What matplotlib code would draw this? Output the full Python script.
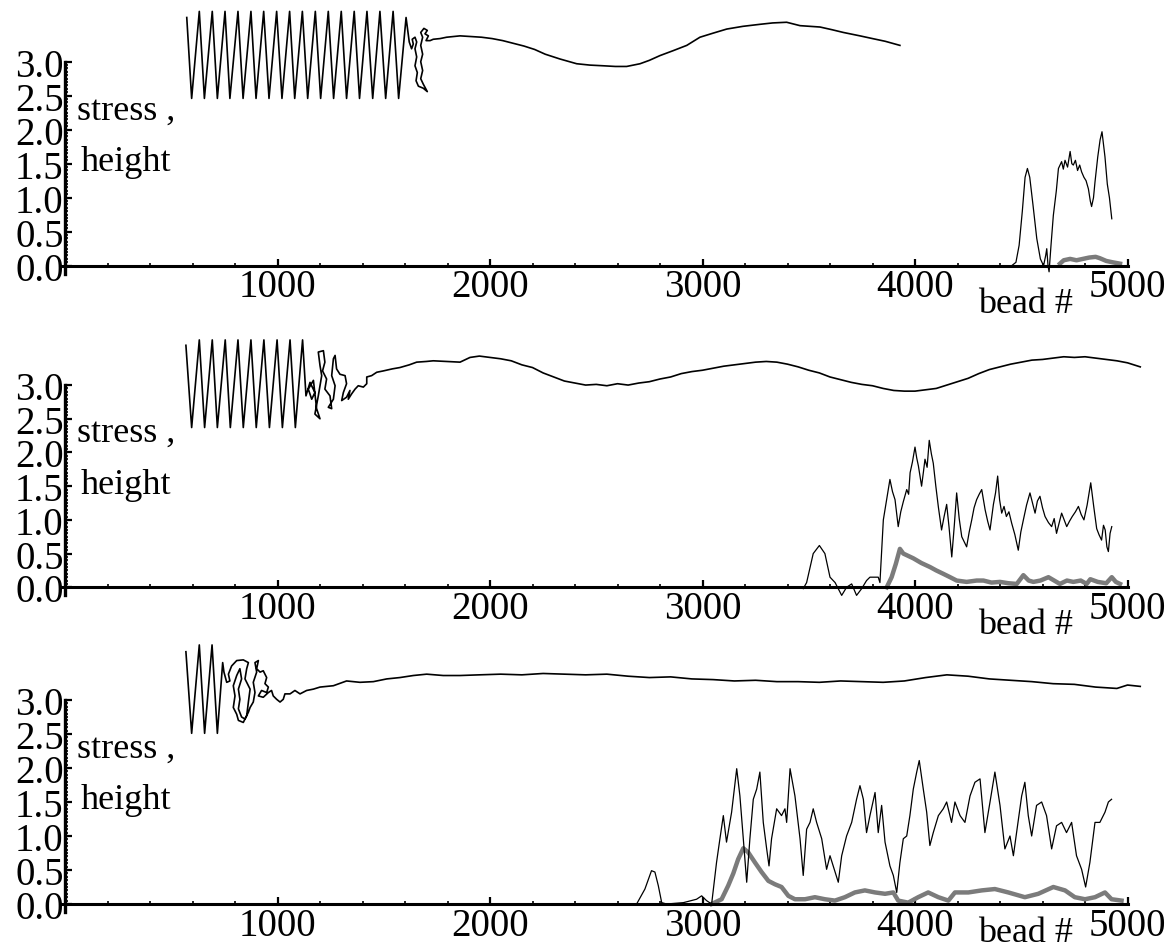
import matplotlib
matplotlib.use("Agg")
import matplotlib.pyplot as plt
from matplotlib.ticker import FixedLocator

plt.rcParams['font.family'] = ['Liberation Serif', 'DejaVu Serif']

# ---------------- data ----------------
# x tick values / labels (bead #)
x_major = [1000, 2000, 3000, 4000, 5000]
x_minor = [200, 400, 600, 800, 1200, 1400, 1600, 1800, 2200, 2400, 2600, 2800,
           3200, 3400, 3600, 3800, 4200, 4400, 4600, 4800]
y_major = [0.0, 0.5, 1.0, 1.5, 2.0, 2.5, 3.0]
y_labels = ['0.0', '0.5', '1.0', '1.5', '2.0', '2.5', '3.0']

# Panel 1 : chain height trace (coil extrema, then tangle and free part)
p1_coil_b = [573, 596, 632, 656, 693, 717, 753, 776, 814, 838, 875, 899, 935, 960,
             996, 1021, 1057, 1081, 1117, 1142, 1178, 1203, 1239, 1264, 1300, 1325,
             1361, 1386, 1421, 1448, 1482, 1509, 1544, 1570, 1605]
p1_coil_v = [3.65, 2.46, 3.74, 2.46, 3.74, 2.46, 3.74, 2.46, 3.74, 2.46, 3.74, 2.46,
             3.74, 2.46, 3.74, 2.46, 3.74, 2.46, 3.74, 2.46, 3.74, 2.46, 3.74, 2.46,
             3.74, 2.46, 3.74, 2.46, 3.74, 2.46, 3.74, 2.46, 3.74, 2.46, 3.65]
p1_tail_b = [1620, 1631, 1639, 1634, 1647, 1655, 1647, 1655, 1647, 1658,
             1652, 1663, 1686, 1705, 1686, 1674, 1683, 1674, 1683, 1674,
             1683, 1674, 1689, 1705, 1694, 1710, 1699, 1718, 1733, 1765,
             1796, 1859, 1910, 1960, 2010, 2060, 2110, 2160, 2210, 2260,
             2329, 2408, 2470, 2533, 2590, 2643, 2706, 2750, 2800, 2860,
             2926, 2988, 3050, 3114, 3190, 3271, 3330, 3396, 3459, 3553,
             3610, 3663, 3741, 3800, 3860, 3929]
p1_tail_v = [3.29, 3.19, 3.26, 3.33, 3.36, 3.29, 3.19, 3.07, 2.94, 2.84,
             2.72, 2.64, 2.61, 2.56, 2.67, 2.75, 2.87, 3.00, 3.11, 3.24,
             3.36, 3.43, 3.49, 3.46, 3.41, 3.38, 3.31, 3.31, 3.33, 3.34,
             3.36, 3.38, 3.37, 3.36, 3.34, 3.31, 3.27, 3.23, 3.18, 3.11,
             3.04, 2.97, 2.95, 2.94, 2.93, 2.93, 2.97, 3.02, 3.09, 3.16,
             3.24, 3.36, 3.42, 3.48, 3.52, 3.55, 3.57, 3.58, 3.53, 3.51,
             3.47, 3.43, 3.38, 3.34, 3.30, 3.24]
# Panel 1 : stress (black) and grey curve
p1_black_b = [4455, 4475, 4490, 4505, 4518, 4529, 4540, 4555, 4573, 4590,
              4605, 4615, 4620, 4626, 4631, 4640, 4651, 4665, 4675, 4690,
              4698, 4706, 4718, 4730, 4738, 4745, 4755, 4765, 4775, 4784,
              4795, 4805, 4816, 4825, 4831, 4840, 4847, 4860, 4871, 4880,
              4894, 4905, 4915, 4926]
p1_black_v = [0.0, 0.05, 0.3, 0.8, 1.3, 1.43, 1.3, 0.9, 0.40, 0.1,
              0.0, 0.15, 0.25, 0.0, -0.09, 0.3, 0.74, 1.1, 1.43, 1.53,
              1.42, 1.55, 1.45, 1.68, 1.5, 1.48, 1.55, 1.4, 1.48, 1.38,
              1.3, 1.25, 1.13, 0.95, 0.87, 1.0, 1.23, 1.6, 1.85, 1.97,
              1.6, 1.2, 1.0, 0.69]
p1_grey_b = [4682, 4700, 4730, 4760, 4790, 4820, 4850, 4870, 4900, 4930, 4965]
p1_grey_v = [0.03, 0.08, 0.10, 0.08, 0.10, 0.12, 0.13, 0.11, 0.07, 0.05, 0.03]

# Panel 2
p2_coil_b = [569, 596, 632, 657, 693, 717, 754, 778, 814, 839, 875, 900, 936, 962,
             998, 1023, 1059, 1084, 1118]
p2_coil_v = [3.59, 2.37, 3.67, 2.37, 3.67, 2.37, 3.67, 2.37, 3.67, 2.37, 3.67, 2.37,
             3.67, 2.37, 3.67, 2.37, 3.67, 2.37, 3.67]
p2_tail_b = [1134, 1153, 1176, 1161, 1145, 1169, 1184, 1200, 1176, 1192,
             1208, 1200, 1192, 1216, 1223, 1212, 1231, 1223, 1247, 1255,
             1239, 1263, 1271, 1255, 1263, 1271, 1278, 1294, 1318, 1325,
             1310, 1302, 1325, 1341, 1333, 1349, 1365, 1380, 1404, 1420,
             1420, 1443, 1467, 1498, 1540, 1576, 1620, 1655, 1700, 1733,
             1800, 1859,
             1906, 1950, 2000, 2050, 2100, 2150, 2200, 2250, 2300, 2350,
             2400, 2450, 2500, 2550, 2600, 2650, 2700, 2750, 2800, 2850,
             2900, 2950, 3000, 3050, 3100, 3150, 3200, 3250, 3300, 3350,
             3400, 3450, 3500, 3550, 3600, 3650, 3700, 3750, 3800, 3850,
             3900, 3950, 4000, 4050, 4100, 4150, 4200, 4250, 4300, 4350,
             4400, 4450, 4500, 4550, 4600, 4650, 4700, 4750, 4800, 4850,
             4900, 4950, 5000, 5060]
p2_tail_v = [2.84, 3.04, 2.89, 2.79, 2.94, 3.07, 2.65, 2.50, 2.57, 2.84,
             3.14, 3.29, 3.49, 3.51, 3.34, 3.21, 3.09, 2.94, 2.84, 2.65,
             2.67, 2.79, 2.99, 3.14, 3.39, 3.44, 3.24, 3.16, 3.14, 3.02,
             2.89, 2.77, 2.82, 2.92, 2.79, 2.87, 2.94, 2.99, 2.97, 3.02,
             3.12, 3.14, 3.19, 3.21, 3.24, 3.26, 3.30, 3.34, 3.35, 3.36,
             3.35, 3.34,
             3.41, 3.43, 3.41, 3.39, 3.36, 3.30, 3.26, 3.18, 3.12, 3.06,
             3.03, 3.00, 3.01, 2.99, 3.02, 3.00, 3.03, 3.05, 3.09, 3.12,
             3.17, 3.20, 3.22, 3.25, 3.28, 3.30, 3.32, 3.34, 3.35, 3.34,
             3.31, 3.27, 3.22, 3.18, 3.12, 3.08, 3.04, 3.01, 2.99, 2.95,
             2.92, 2.91, 2.91, 2.93, 2.95, 3.00, 3.05, 3.10, 3.17, 3.23,
             3.27, 3.31, 3.34, 3.37, 3.38, 3.40, 3.42, 3.41, 3.42, 3.40,
             3.38, 3.36, 3.33, 3.27]
p2_black_b = [3474, 3490, 3521, 3550, 3576, 3600, 3624, 3655, 3678, 3702,
              3725, 3749, 3772, 3788, 3827, 3835, 3851, 3882, 3894, 3906, 3921,
              3933, 3945, 3961, 3970, 3977, 3988, 4000, 4008, 4016, 4031, 4040, 4047,
              4057, 4067, 4077, 4086, 4098, 4110, 4125, 4137, 4149, 4160, 4173, 4185,
              4196, 4208, 4220, 4243, 4255, 4267, 4278, 4290, 4302, 4314, 4330,
              4342, 4353, 4369, 4379, 4389, 4398, 4408, 4419, 4430, 4442, 4455, 4470,
              4486, 4498, 4510, 4525, 4541, 4553, 4565, 4576, 4588, 4600, 4612, 4628,
              4643, 4655, 4666, 4678, 4690, 4702, 4714, 4727, 4740, 4755, 4769, 4782,
              4795, 4810, 4827, 4841, 4855, 4866, 4878, 4887, 4895, 4903, 4910, 4918,
              4926]
p2_black_v = [-0.02, 0.07, 0.5, 0.62, 0.5, 0.15, 0.07, -0.12, 0.0, 0.05,
              -0.12, -0.02, 0.1, 0.15, 0.15, 0.07, 1.0, 1.6, 1.42, 1.3, 0.9,
              1.12, 1.27, 1.45, 1.38, 1.7, 1.86, 2.08, 1.92, 1.8, 1.5, 1.72, 1.9,
              1.78, 2.18, 1.98, 1.84, 1.5, 1.19, 0.85, 1.05, 1.23, 0.9, 0.45, 0.92,
              1.4, 1.02, 0.75, 0.6, 0.82, 1.0, 1.18, 1.3, 1.38, 1.45, 1.15,
              0.98, 0.85, 1.23, 1.4, 1.65, 1.3, 1.1, 1.2, 1.05, 1.12, 0.95, 0.78,
              0.55, 0.82, 1.0, 1.22, 1.4, 1.25, 1.1, 1.28, 1.35, 1.18, 1.05, 0.96,
              0.9, 1.02, 0.8, 0.95, 1.1, 1.0, 0.9, 0.98, 1.05, 1.12, 1.2, 1.08,
              1.0, 1.22, 1.55, 1.2, 0.87, 0.78, 0.7, 0.92, 0.85, 0.6, 0.53, 0.8,
              0.9]
p2_grey_b = [3867, 3890, 3910, 3929, 3945, 3992, 4030, 4071, 4100, 4133,
             4165, 4196, 4243, 4290, 4322, 4360, 4400, 4440, 4479, 4510,
             4535, 4557, 4590, 4628, 4655, 4682, 4715, 4745, 4780, 4808,
             4825, 4860, 4900, 4926, 4945, 4965]
p2_grey_v = [0.0, 0.15, 0.35, 0.57, 0.5, 0.43, 0.36, 0.3, 0.25, 0.2,
             0.15, 0.1, 0.08, 0.1, 0.1, 0.07, 0.08, 0.06, 0.05, 0.18,
             0.1, 0.08, 0.1, 0.15, 0.1, 0.05, 0.1, 0.08, 0.1, 0.05,
             0.12, 0.08, 0.06, 0.15, 0.08, 0.05]

# Panel 3
p3_coil_b = [569, 596, 632, 657, 692, 717]
p3_coil_v = [3.71, 2.51, 3.81, 2.51, 3.81, 2.51]
p3_tail_b = [742, 748, 761, 776, 769, 784, 808, 839, 863, 855,
             847, 871, 863, 855, 839, 816, 808, 792, 800, 792,
             808, 823, 831, 816, 823, 816, 831, 847, 863, 871,
             886, 894, 886, 902, 894, 910, 902, 918, 933, 949,
             941, 957, 949, 925, 910, 933, 957, 972, 980, 996,
             1012, 1027, 1035, 1059, 1082, 1106, 1137, 1169, 1200, 1263,
             1325, 1388, 1451, 1514, 1576, 1639, 1702, 1780, 1859,
             1950, 2050, 2150, 2250, 2350, 2450, 2550, 2650, 2750, 2850,
             2950, 3050, 3150, 3250, 3350, 3450, 3550, 3650, 3750, 3850,
             3950, 4050, 4150, 4250, 4350, 4450, 4550, 4650, 4750, 4850,
             4950, 5000, 5060]
p3_tail_v = [3.55, 3.41, 3.26, 3.28, 3.38, 3.50, 3.58, 3.59, 3.55, 3.46,
             3.31, 3.16, 2.97, 2.77, 2.67, 2.70, 2.79, 2.89, 3.06, 3.21,
             3.36, 3.46, 3.31, 3.16, 3.01, 2.87, 2.75, 2.72, 2.82, 2.89,
             2.97, 3.11, 3.26, 3.41, 3.55, 3.58, 3.46, 3.41, 3.43, 3.33,
             3.24, 3.19, 3.11, 3.14, 3.06, 3.04, 3.11, 3.14, 3.06, 3.01,
             2.97, 3.01, 3.09, 3.09, 3.14, 3.09, 3.14, 3.16, 3.19, 3.21,
             3.28, 3.26, 3.27, 3.31, 3.33, 3.36, 3.38, 3.36, 3.36,
             3.37, 3.38, 3.37, 3.39, 3.38, 3.37, 3.38, 3.35, 3.33, 3.34,
             3.31, 3.30, 3.28, 3.29, 3.27, 3.27, 3.26, 3.28, 3.27, 3.26,
             3.28, 3.33, 3.37, 3.35, 3.31, 3.29, 3.27, 3.24, 3.23, 3.19,
             3.17, 3.22, 3.20]
p3_black_b = [2690, 2729, 2760, 2776, 2792, 2808, 2831, 2910, 2972, 2996,
              3019, 3043, 3066, 3082, 3098, 3113, 3137, 3161, 3176, 3192,
              3208, 3223, 3239, 3255, 3270, 3286, 3302, 3313, 3325, 3349,
              3372, 3388, 3396, 3412, 3435, 3459, 3474, 3490, 3506, 3521,
              3537, 3561, 3584, 3600, 3615, 3639, 3655, 3678, 3702, 3725,
              3741, 3757, 3772, 3788, 3812, 3827, 3843, 3859, 3882, 3898,
              3914, 3929, 3945, 3961, 3976, 3992, 4008, 4020, 4039, 4055,
              4070, 4086, 4110, 4133, 4149, 4172, 4188, 4212, 4235, 4259,
              4282, 4306, 4329, 4353, 4376, 4400, 4423, 4447, 4463, 4478,
              4502, 4517, 4533, 4549, 4572, 4596, 4619, 4643, 4666, 4690,
              4713, 4737, 4760, 4784, 4803, 4823, 4847, 4870, 4894, 4910,
              4925]
p3_black_v = [0.0, 0.22, 0.49, 0.47, 0.27, 0.02, 0.0, 0.02, 0.07, 0.12,
              0.05, 0.0, 0.61, 0.96, 1.3, 0.91, 1.35, 1.99, 1.59, 0.96,
              0.32, 0.96, 1.54, 1.69, 1.94, 1.2, 0.81, 0.56, 0.96, 1.4,
              1.3, 1.4, 1.2, 1.99, 1.59, 0.96, 0.42, 1.1, 1.2, 1.4,
              1.2, 0.96, 0.51, 0.71, 0.56, 0.32, 0.71, 1.0, 1.2, 1.54,
              1.74, 1.54, 1.05, 1.3, 1.64, 1.05, 1.45, 0.91, 0.56, 0.42,
              0.17, 0.61, 0.96, 1.0, 1.3, 1.69, 1.94, 2.11, 1.69, 1.35,
              0.86, 1.05, 1.3, 1.4, 1.5, 1.2, 1.5, 1.3, 1.2, 1.59,
              1.79, 1.84, 1.05, 1.5, 1.94, 1.45, 0.81, 1.0, 0.71, 1.05,
              1.59, 1.79, 1.3, 1.0, 1.45, 1.5, 1.3, 0.81, 1.15, 1.2,
              1.05, 1.2, 0.71, 0.51, 0.25, 0.61, 1.2, 1.2, 1.35, 1.5,
              1.54]
p3_grey_b = [3043, 3090, 3121, 3145, 3168, 3192, 3215, 3247, 3278, 3310,
             3341, 3372, 3404, 3435, 3482, 3529, 3576, 3623, 3670, 3717,
             3764, 3812, 3859, 3898, 3921, 3968, 4015, 4062, 4110, 4157,
             4188, 4251, 4314, 4376, 4439, 4517, 4580, 4651, 4706, 4752,
             4800, 4847, 4894, 4925, 4972]
p3_grey_v = [0.0, 0.07, 0.27, 0.45, 0.66, 0.82, 0.76, 0.61, 0.47, 0.34,
             0.29, 0.25, 0.12, 0.07, 0.07, 0.1, 0.07, 0.05, 0.1, 0.17,
             0.2, 0.17, 0.15, 0.17, 0.05, 0.02, 0.1, 0.17, 0.1, 0.05,
             0.17, 0.17, 0.2, 0.22, 0.17, 0.1, 0.15, 0.25, 0.2, 0.1,
             0.07, 0.1, 0.17, 0.07, 0.05]

panels = [
    (p1_coil_b + p1_tail_b, p1_coil_v + p1_tail_v, p1_black_b, p1_black_v, p1_grey_b, p1_grey_v),
    (p2_coil_b + p2_tail_b, p2_coil_v + p2_tail_v, p2_black_b, p2_black_v, p2_grey_b, p2_grey_v),
    (p3_coil_b + p3_tail_b, p3_coil_v + p3_tail_v, p3_black_b, p3_black_v, p3_grey_b, p3_grey_v),
]
bead_label_y = [-0.56, -0.55, -0.42]

# ---------------- layout ----------------
W, H = 1168, 953
fig = plt.figure(figsize=(W / 100, H / 100), dpi=100)
left = 65 / W
width = 5100 * 0.2125 / W
rects = [
    (left, 1 - 276.9 / H, width, 275.4 / H),
    (left, 1 - 598.4 / H, width, 273.0 / H),
    (left, 1 - 915.2 / H, width, 275.4 / H),
]
GREY = '#7b7b7b'
FS = 28

for rect, (cb, cv, bb, bv, gb, gv), by in zip(rects, panels, bead_label_y):
    ax = fig.add_axes(rect)
    ax.set_xlim(0, 5100)
    ax.set_ylim(-0.15, 3.9)
    ax.plot(gb, gv, color=GREY, lw=3.2, solid_joinstyle='round', zorder=2)
    ax.plot(bb, bv, color='black', lw=0.9, zorder=3)
    ax.plot(cb, cv, color='black', lw=1.2, zorder=3)

    for s in ('top', 'right'):
        ax.spines[s].set_visible(False)
    ax.spines['bottom'].set_position(('data', 0))
    ax.spines['bottom'].set_bounds(-20, 5000)
    ax.spines['left'].set_bounds(-0.12, 3.0)
    ax.spines['bottom'].set_linewidth(2.2)
    ax.spines['left'].set_linewidth(2.4)
    ax.patch.set_visible(False)

    ax.xaxis.set_major_locator(FixedLocator(x_major))
    ax.xaxis.set_minor_locator(FixedLocator(x_minor))
    ax.set_xticklabels([str(v) for v in x_major])
    ax.yaxis.set_major_locator(FixedLocator(y_major))
    ax.yaxis.set_minor_locator(FixedLocator([i * 0.05 for i in range(61)]))
    ax.set_yticklabels(y_labels)
    ax.tick_params(axis='both', which='major', direction='in', length=5, width=1.6,
                   labelsize=FS)
    ax.tick_params(axis='both', which='minor', direction='in', length=2.5, width=1.2)
    ax.tick_params(axis='x', which='major', pad=2)
    ax.tick_params(axis='y', which='major', pad=1)

    ax.text(287, 1.91, 'stress ,\nheight', ha='center', va='center', fontsize=26,
            linespacing=1.75)
    ax.text(4518, by, 'bead #', ha='center', va='center', fontsize=26,
            clip_on=False)

fig.savefig('out.png', dpi=100)
